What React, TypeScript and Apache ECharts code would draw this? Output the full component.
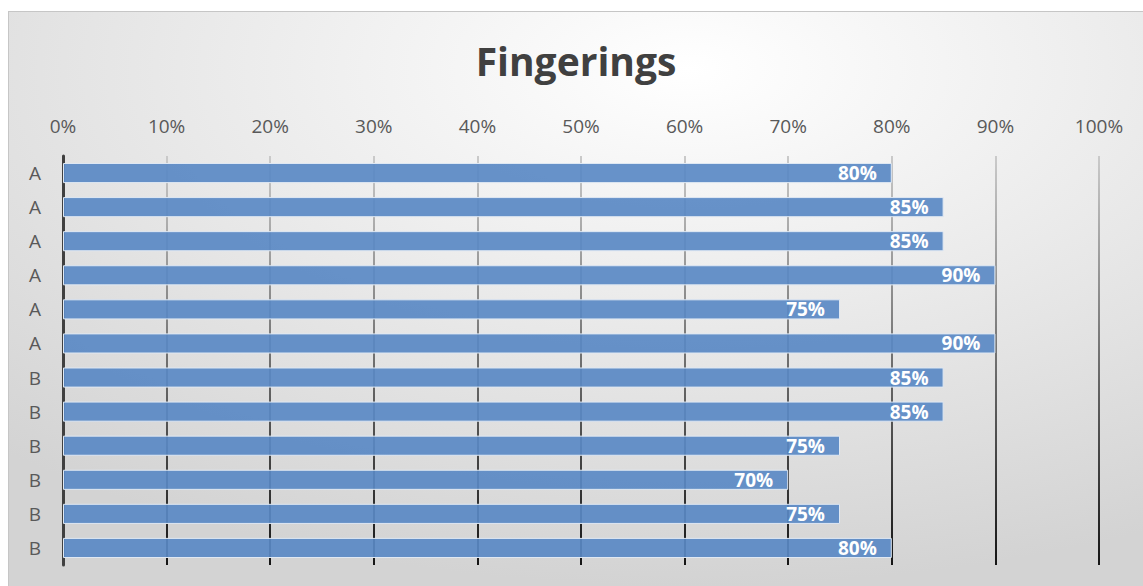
import React, { useEffect, useRef } from "react";
import * as echarts from "echarts";

const categories = ["A", "A", "A", "A", "A", "A", "B", "B", "B", "B", "B", "B"];
const values = [80, 85, 85, 90, 75, 90, 85, 85, 75, 70, 75, 80];
const xTicks = [0, 10, 20, 30, 40, 50, 60, 70, 80, 90, 100];
const title = "Fingerings";

const FONT = "'Open Sans', 'Noto Sans', sans-serif";

export default function App() {
  const ref = useRef<HTMLDivElement>(null);
  useEffect(() => {
    document.body.style.overflow = "hidden";
    const chart = echarts.init(ref.current!, null, { renderer: "svg" });
    const H = 574;
    const gridTop = 144, gridBottom = 21;
    chart.setOption({
      animation: false,
      backgroundColor: new echarts.graphic.RadialGradient(0.6, 0.1, 0.9, [
        { offset: 0, color: "#ffffff" },
        { offset: 1, color: "#d3d3d3" },
      ]),
      title: {
        text: title,
        left: "center",
        top: 24,
        textStyle: { fontFamily: FONT, fontWeight: "bold", fontSize: 39, color: "#404040" },
      },
      grid: { left: 54, right: 44, top: gridTop, bottom: gridBottom, containLabel: false },
      xAxis: {
        type: "value",
        position: "top",
        min: 0,
        max: 100,
        interval: 10,
        axisLine: { show: false },
        axisTick: { show: false },
        axisLabel: {
          margin: 21,
          fontFamily: FONT,
          fontSize: 19,
          color: "#595959",
          formatter: (v: number) => (xTicks.includes(v) ? v + "%" : ""),
        },
        splitLine: {
          show: true,
          lineStyle: {
            width: 2,
            color: new echarts.graphic.LinearGradient(0, gridTop, 0, H - gridBottom, [
              { offset: 0, color: "#cacaca" },
              { offset: 1, color: "#151515" },
            ], true),
          },
        },
      },
      yAxis: {
        type: "category",
        inverse: true,
        data: categories,
        axisLine: { show: true, lineStyle: { color: "#404040", width: 3 } },
        axisTick: { show: false },
        axisLabel: { margin: 22, fontFamily: FONT, fontSize: 19, color: "#595959" },
      },
      series: [
        {
          type: "bar",
          data: values,
          barWidth: "59%",
          itemStyle: {
            color: "rgba(90,137,196,0.92)",
            borderColor: "#dfe8f3",
            borderWidth: 1,
          },
          label: {
            show: true,
            position: "insideRight",
            distance: 15,
            formatter: (p: any) => p.value + "%",
            fontFamily: FONT,
            fontWeight: "bold",
            fontSize: 19,
            color: "#ffffff",
          },
        },
      ],
    });
    return () => chart.dispose();
  }, []);
  return (
    <div
      style={{
        position: "absolute",
        left: 8,
        top: 11,
        borderTop: "1px solid #c6c6c6",
        borderLeft: "1px solid #c6c6c6",
      }}
    >
      <div ref={ref} style={{ width: 1134, height: 574 }} />
    </div>
  );
}
